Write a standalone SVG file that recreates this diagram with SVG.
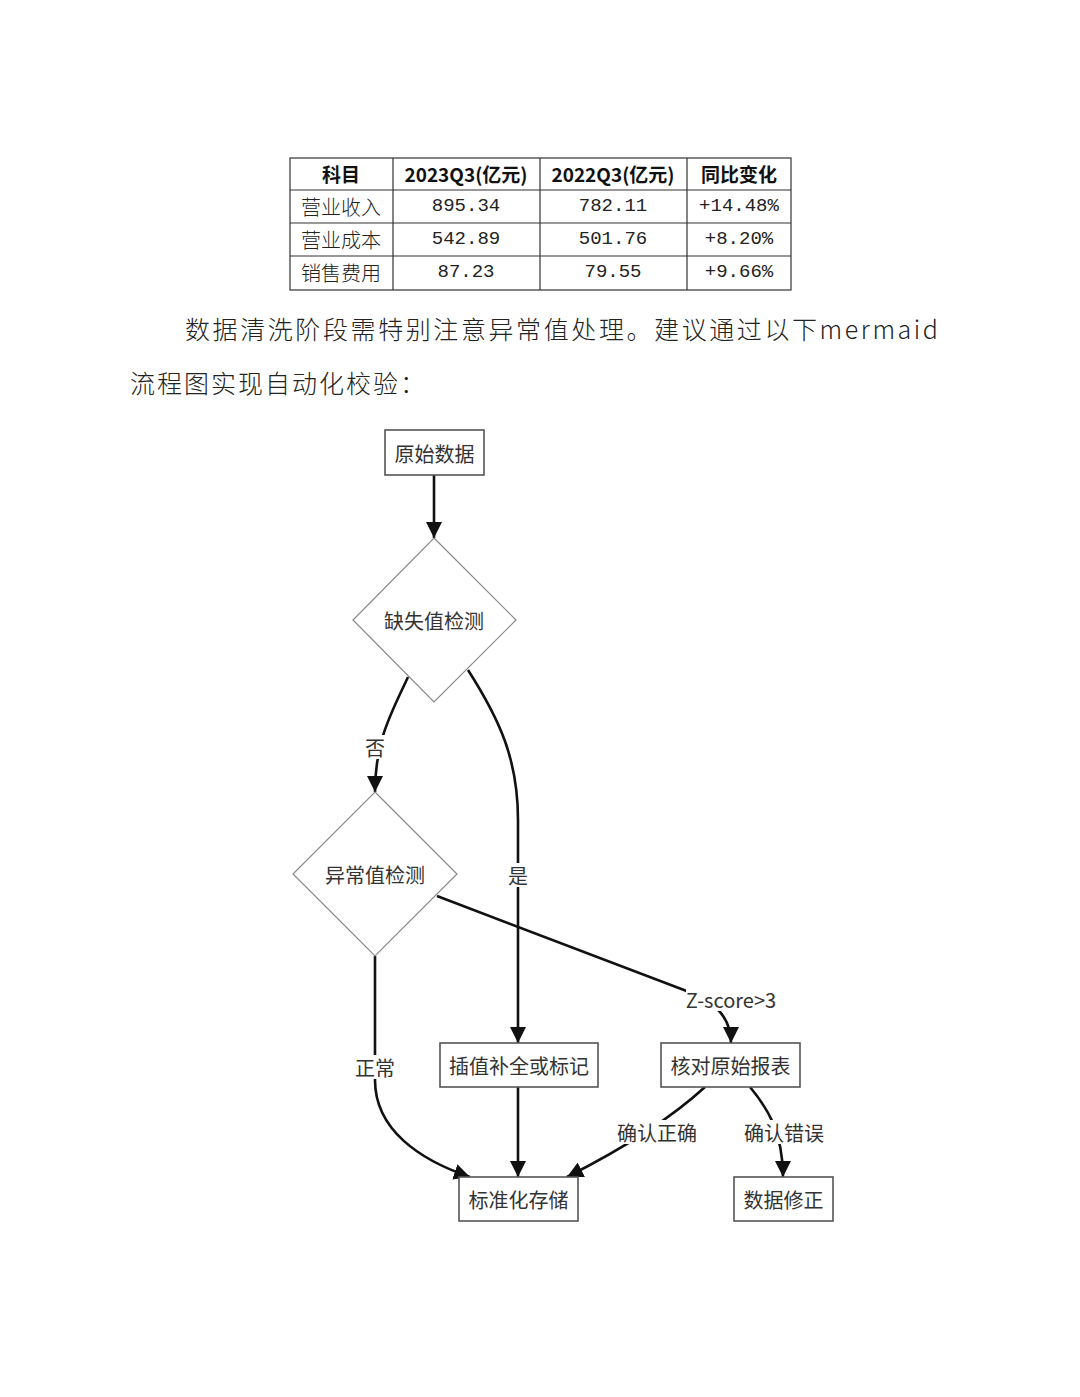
<svg xmlns="http://www.w3.org/2000/svg" width="1080" height="1397" viewBox="0 0 1080 1397">
<style>
.tb{fill:none;stroke:#333;stroke-width:1.2}
.th{font-family:"Noto Sans CJK SC","Liberation Sans",sans-serif;font-weight:bold;font-size:19px;fill:#111;text-anchor:middle;dominant-baseline:central}
.td{font-family:"Noto Sans CJK SC",sans-serif;font-size:20px;fill:#222;text-anchor:middle;dominant-baseline:central;font-weight:300}
.tn{font-family:"Liberation Mono","Noto Sans CJK SC",monospace;font-size:19px;fill:#222;text-anchor:middle;dominant-baseline:central}
.para{font-family:"Noto Sans CJK SC",sans-serif;font-size:25px;fill:#222;font-weight:300}
.box{fill:#fff;stroke:#555;stroke-width:1.6}
.dia{fill:#fff;stroke:#888;stroke-width:1.2}
.nt{font-family:"Noto Sans CJK SC","Liberation Sans",sans-serif;font-size:20px;fill:#333;text-anchor:middle;dominant-baseline:central}
.edge{fill:none;stroke:#111;stroke-width:2.6}
.lbg{fill:#fff}
</style>
<defs>
<marker id="ah" viewBox="0 0 16 16" refX="16" refY="8" markerWidth="16" markerHeight="16" markerUnits="userSpaceOnUse" orient="auto">
<path d="M0,0 L16,8 L0,16 z" fill="#111"/>
</marker>
</defs>
<rect width="1080" height="1397" fill="#fff"/>

<g id="table">
<rect class="tb" x="290" y="158" width="501" height="132"/>
<line class="tb" x1="290" y1="190" x2="791" y2="190"/>
<line class="tb" x1="290" y1="223" x2="791" y2="223"/>
<line class="tb" x1="290" y1="256" x2="791" y2="256"/>
<line class="tb" x1="393" y1="158" x2="393" y2="290"/>
<line class="tb" x1="540" y1="158" x2="540" y2="290"/>
<line class="tb" x1="687" y1="158" x2="687" y2="290"/>
<text class="th" x="341" y="173">科目</text>
<text class="th" x="466" y="173">2023Q3(亿元)</text>
<text class="th" x="613" y="173">2022Q3(亿元)</text>
<text class="th" x="739" y="173">同比变化</text>
<text class="td" x="341" y="206">营业收入</text>
<text class="tn" x="466" y="206">895.34</text>
<text class="tn" x="613" y="206">782.11</text>
<text class="tn" x="739" y="206">+14.48%</text>
<text class="td" x="341" y="239">营业成本</text>
<text class="tn" x="466" y="239">542.89</text>
<text class="tn" x="613" y="239">501.76</text>
<text class="tn" x="739" y="239">+8.20%</text>
<text class="td" x="341" y="272">销售费用</text>
<text class="tn" x="466" y="272">87.23</text>
<text class="tn" x="613" y="272">79.55</text>
<text class="tn" x="739" y="272">+9.66%</text>
</g>

<g id="paragraph">
<text class="para" x="185" y="339" textLength="753" lengthAdjust="spacing">数据清洗阶段需特别注意异常值处理。建议通过以下mermaid</text>
<text class="para" x="130" y="393" textLength="295" lengthAdjust="spacing">流程图实现自动化校验：</text>
</g>

<g id="connectors">
<path class="edge" d="M434,475 L434,538" marker-end="url(#ah)"/>
<path class="edge" d="M408,677 C392,712 375,740 375,792" marker-end="url(#ah)"/>
<path class="edge" d="M468,670 C500,720 518,760 518,820 L518,1043" marker-end="url(#ah)"/>
<path class="edge" d="M437,896 L684,990 C712,1000 731,1015 731,1043" marker-end="url(#ah)"/>
<path class="edge" d="M375,956 L375,1080 C375,1130 420,1160 470,1177" marker-end="url(#ah)"/>
<path class="edge" d="M518,1087 L518,1177" marker-end="url(#ah)"/>
<path class="edge" d="M705,1087 C680,1110 640,1140 567,1177" marker-end="url(#ah)"/>
<path class="edge" d="M750,1087 C765,1105 783,1130 783,1177" marker-end="url(#ah)"/>
<rect class="lbg" x="364" y="735" width="22" height="24"/>
<text class="nt" x="375" y="747">否</text>
<rect class="lbg" x="507" y="863" width="22" height="24"/>
<text class="nt" x="518" y="875">是</text>
<rect class="lbg" x="686" y="987" width="90" height="24"/>
<text class="nt" x="731" y="999">Z-score&gt;3</text>
<rect class="lbg" x="354" y="1055" width="42" height="24"/>
<text class="nt" x="375" y="1067">正常</text>
<rect class="lbg" x="616" y="1120" width="82" height="24"/>
<text class="nt" x="657" y="1132">确认正确</text>
<rect class="lbg" x="743" y="1120" width="82" height="24"/>
<text class="nt" x="784" y="1132">确认错误</text>
</g>

<g id="n-raw">
<rect class="box" x="385" y="430" width="99" height="45"/>
<text class="nt" x="434.5" y="453">原始数据</text>
</g>
<g id="n-missing">
<polygon class="dia" points="434,538 516,620 434,702 353,620"/>
<text class="nt" x="434" y="620">缺失值检测</text>
</g>
<g id="n-outlier">
<polygon class="dia" points="375,792 457,874 375,956 293,874"/>
<text class="nt" x="375" y="874">异常值检测</text>
</g>
<g id="n-impute">
<rect class="box" x="440" y="1043" width="158" height="44"/>
<text class="nt" x="519" y="1065">插值补全或标记</text>
</g>
<g id="n-check">
<rect class="box" x="661" y="1043" width="139" height="44"/>
<text class="nt" x="730.5" y="1065">核对原始报表</text>
</g>
<g id="n-store">
<rect class="box" x="459" y="1177" width="119" height="44"/>
<text class="nt" x="518.5" y="1199">标准化存储</text>
</g>
<g id="n-fix">
<rect class="box" x="734" y="1177" width="99" height="44"/>
<text class="nt" x="783.5" y="1199">数据修正</text>
</g>
</svg>
